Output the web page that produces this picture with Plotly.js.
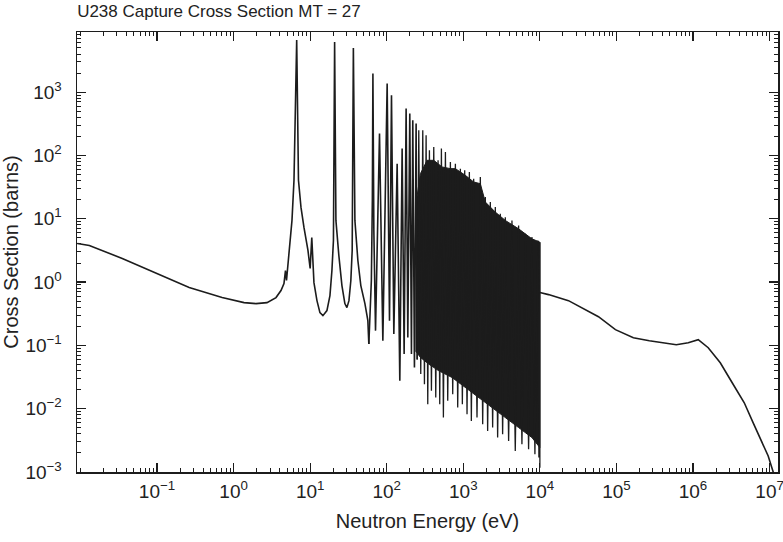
<!DOCTYPE html>
<html>
<head>
<meta charset="utf-8">
<script src="https://cdn.plot.ly/plotly-3.0.1.min.js"></script>
<style>html,body{margin:0;padding:0;background:#fff;}#chart{width:783px;height:542px;}</style>
</head>
<body>
<div id="chart"></div>
<script>
// Smooth 1/v region and the first three large resonances (eV, barns)
const lowE = [0.00912, 0.01306, 0.03516, 0.0977, 0.263, 0.708, 1.37, 1.965, 2.73, 3.58, 4.16, 4.55, 4.76, 4.91, 5.29, 5.79, 6.15, 6.67, 7.04, 7.59, 8.30, 9.36, 10.0, 10.5, 11.21, 12.27, 13.42, 14.68, 16.56, 18.13, 19.24, 20.14, 20.87, 21.7, 23.7, 26.0, 28.4, 30.2, 32.1, 34.0, 35.4, 36.68, 38.4, 42.0, 45.9, 51.9, 56.7, 58.4];
const lowSigma = [4.07, 3.78, 2.36, 1.36, 0.818, 0.569, 0.474, 0.457, 0.474, 0.569, 0.734, 0.948, 1.52, 1.06, 2.83, 9.42, 40.5, 6650, 40.5, 15.1, 7.30, 3.16, 1.64, 5.07, 0.98, 0.51, 0.329, 0.295, 0.354, 0.611, 1.52, 4.54, 6200, 9.42, 2.63, 0.88, 0.457, 0.395, 0.509, 1.06, 3.16, 4980, 9.42, 2.19, 0.88, 0.457, 0.246, 0.105];

// Resolved resonances, peaks and troughs (eV, barns)
const resE = [58.4, 63.0, 64.9, 66.0, 67.9, 71.4, 80.5, 89.0, 101.3, 108.7, 115.4, 123.8, 136.8, 148.2, 158.9, 168.8, 179.2, 188.5, 200.1, 210.3, 218.9, 230.1, 242.0, 250.0];
const resSigma = [0.105, 1.06, 19.6, 1975, 6.5, 0.171, 221.6, 0.1186, 1371, 0.2457, 896, 0.151, 74.2, 0.0276, 128.3, 0.0729, 551, 0.1338, 459, 0.0729, 360, 0.0448, 319, 0.06];

// Dense spikes, tops and bottoms (eV, barns)
const denseE = [250.0, 262.1, 278.3, 295.6, 310.8, 326.8, 343.5, 361.1, 383.5, 411.4, 436.8, 468.3, 492.4, 517.6, 549.7, 583.9, 626.0, 678.3, 727.6, 788.1, 845.3, 915.7, 972.3, 1043, 1118.7, 1200, 1274, 1366, 1510, 1669, 1791, 1940, 2080, 2254, 2417, 2619, 2809, 3043, 3264, 3536, 3908, 4320, 4773, 5277, 5831, 6446, 7123, 7873, 8615, 9428, 9714, 10000, 10000];
const denseSigma = [0.06, 250.3, 0.0352, 250.3, 0.0244, 208.6, 0.01178, 120.7, 0.01915, 136.3, 0.01502, 83.8, 0.01178, 128.3, 0.00725, 113.6, 0.0133, 78.9, 0.01697, 74.2, 0.01043, 61.9, 0.01178, 58.2, 0.00818, 54.8, 0.00642, 43.0, 0.00725, 45.7, 0.00568, 22.0, 0.00446, 18.4, 0.00503, 15.3, 0.0035, 12.0, 0.00395, 10.6, 0.0031, 9.41, 0.00215, 7.84, 0.00274, 5.79, 0.00228, 5.13, 0.0019, 4.54, 0.00169, 4.27, 0.00117];

// Solid black core of the dense region: upper edge, then lower edge back (eV, barns)
const bandE = [237.2, 275.5, 336.7, 411.4, 528.1, 678.3, 788.1, 1064, 1366, 1669, 1940, 2619, 3536, 5277, 7873, 10000, 10000, 7873, 5277, 3536, 2369, 1588, 1064, 713, 477.9, 353.9, 275.5, 237.2];
const bandSigma = [15.3, 51.6, 83.8, 83.8, 65.8, 61.9, 61.9, 48.5, 38.1, 35.8, 18.4, 12.75, 9.41, 6.94, 4.82, 4.27, 0.00243, 0.0035, 0.00503, 0.00725, 0.01043, 0.01502, 0.02164, 0.0311, 0.0397, 0.0506, 0.0646, 0.0823];

// Smooth fast-neutron region (eV, barns)
const highE = [10000, 12970, 23650, 43150, 58240, 97000, 166400, 269000, 409500, 605000, 867000, 1.17e6, 1.58e6, 2.27e6, 3.25e6, 4.67e6, 6.11e6, 7.77e6, 9.59e6, 1.115e7, 1.18e7];
const highSigma = [0.683, 0.634, 0.509, 0.341, 0.284, 0.177, 0.132, 0.1186, 0.110, 0.1025, 0.110, 0.123, 0.0919, 0.0532, 0.0257, 0.0124, 0.00597, 0.00321, 0.00179, 0.001, 0.00078];

const xTickVals = [0.1, 1, 10, 100, 1000, 1e4, 1e5, 1e6, 1e7];
const xTickText = ['10<sup>−1</sup>', '10<sup>0</sup>', '10<sup>1</sup>', '10<sup>2</sup>', '10<sup>3</sup>', '10<sup>4</sup>', '10<sup>5</sup>', '10<sup>6</sup>', '10<sup>7</sup>'];
const yTickVals = [0.001, 0.01, 0.1, 1, 10, 100, 1000];
const yTickText = ['10<sup>−3</sup>', '10<sup>−2</sup>', '10<sup>−1</sup>', '10<sup>0</sup>', '10<sup>1</sup>', '10<sup>2</sup>', '10<sup>3</sup>'];

const ink = '#1c1c1c';
const fontFam = 'Liberation Sans, Arial, sans-serif';
const lineStyle = {color: ink, width: 1.6};

const traces = [
  {x: bandE, y: bandSigma, mode: 'lines', fill: 'toself', fillcolor: ink, line: {color: ink, width: 1}, hoverinfo: 'skip'},
  {x: lowE, y: lowSigma, mode: 'lines', line: lineStyle},
  {x: resE, y: resSigma, mode: 'lines', line: lineStyle},
  {x: denseE, y: denseSigma, mode: 'lines', line: {color: ink, width: 1.3}},
  {x: highE, y: highSigma, mode: 'lines', line: lineStyle}
];

const axisCommon = {
  type: 'log',
  showline: true, linecolor: ink, linewidth: 1.5, mirror: 'ticks',
  ticks: 'inside', ticklen: 9, tickwidth: 1.2, tickcolor: ink,
  showgrid: false, zeroline: false,
  ticklabeloverflow: 'allow',
  tickfont: {family: fontFam, size: 19, color: '#222'},
  minor: {ticks: 'inside', ticklen: 4, tickwidth: 1, tickcolor: ink, dtick: 'D1', showgrid: false}
};

const layout = {
  width: 783, height: 542,
  margin: {l: 77, r: 5, t: 32, b: 70},
  paper_bgcolor: '#fff', plot_bgcolor: '#fff',
  showlegend: false,
  title: {text: 'U238 Capture Cross Section MT = 27', x: 0.0985, xanchor: 'left', y: 0.99, yanchor: 'top',
          font: {family: fontFam, size: 17, color: '#222'}},
  xaxis: Object.assign({}, axisCommon, {
    range: [-2.045, 7.11], tickmode: 'array', tickvals: xTickVals, ticktext: xTickText,
    ticklabelstandoff: 2,
    title: {text: 'Neutron Energy (eV)', standoff: 12, font: {family: fontFam, size: 20, color: '#222'}}
  }),
  yaxis: Object.assign({}, axisCommon, {
    range: [-3, 3.95], tickmode: 'array', tickvals: yTickVals, ticktext: yTickText,
    ticklabelstandoff: 10,
    title: {text: 'Cross Section (barns)', standoff: 1, font: {family: fontFam, size: 20, color: '#222'}}
  })
};

Plotly.newPlot('chart', traces, layout, {displayModeBar: false, staticPlot: true});
</script>
</body>
</html>
